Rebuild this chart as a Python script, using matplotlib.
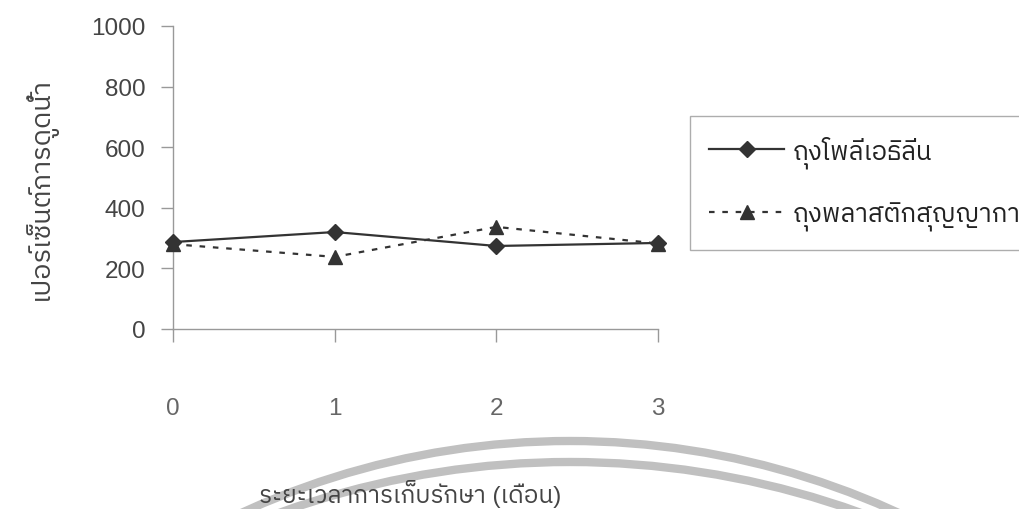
import matplotlib
matplotlib.use("Agg")
import matplotlib.pyplot as plt
from matplotlib import font_manager
from matplotlib.ft2font import FT2Font
from matplotlib.patches import Arc
from matplotlib.transforms import IdentityTransform

months = [0, 1, 2, 3]
polyethylene = [287, 320, 274, 284]
vacuum_bag = [280, 238, 337, 282]
series_names = ["ถุงโพลีเอธิลีน", "ถุงพลาสติกสุญญากาศ"]
y_ticks = [0, 200, 400, 600, 800, 1000]
x_label = "ระยะเวลาการเก็บรักษา (เดือน)"
y_label = "เปอร์เซ็นต์การดูดน้ำ"


def find_thai_family():
    # first installed family that actually has Thai glyphs
    found = []
    for path in font_manager.findSystemFonts():
        try:
            if 0x0E01 in FT2Font(path).get_charmap():
                found.append(font_manager.FontProperties(fname=path).get_name())
        except Exception:
            continue
    for name in found:
        if "Sans" in name and "Loopless" in name:
            return name
    for name in found:
        if "Sans" in name:
            return name
    return found[0] if found else "DejaVu Sans"


thai = find_thai_family()
plt.rcParams["font.family"] = ["Liberation Sans", thai, "DejaVu Sans"]

fig = plt.figure(figsize=(10.2, 5.1), dpi=100)
ax = fig.add_axes([173 / 1020, 1 - 330 / 510, (658 - 173) / 1020, 303 / 510])

ax.plot(months, polyethylene, color="#333333", lw=1.6, marker="D", ms=8,
        label=series_names[0], clip_on=False, zorder=4)
ax.plot(months, vacuum_bag, color="#333333", lw=1.6, ls=(0, (2.5, 3.5)),
        marker="^", ms=10, label=series_names[1], clip_on=False, zorder=3)

ax.set_xlim(0, 3)
ax.set_ylim(0, 1000)
ax.set_xticks(months)
ax.set_yticks(y_ticks)
for side in ("top", "right"):
    ax.spines[side].set_visible(False)
for side in ("left", "bottom"):
    ax.spines[side].set_color("#999999")
    ax.spines[side].set_linewidth(1.0)
ax.tick_params(axis="y", length=9, width=1, color="#999999", pad=11,
               labelsize=17.5, labelcolor="#444444")
ax.tick_params(axis="x", length=9, width=1, color="#999999", pad=40,
               labelsize=17.5, labelcolor="#666666")

fig.text(40 / 1020, 1 - 189 / 510, y_label, rotation=90, ha="center",
         va="center", fontsize=19.5, color="#444444")
fig.text(410 / 1020, 1 - 494 / 510, x_label, ha="center", va="center",
         fontsize=17.5, color="#444444")

leg = ax.legend(loc="upper left", bbox_to_anchor=(690 / 1020, 1 - 117 / 510),
                bbox_transform=fig.transFigure, borderaxespad=0, fontsize=18.5,
                frameon=True, fancybox=False, edgecolor="#999999",
                handlelength=2.9, labelspacing=1.3, borderpad=0.75,
                handletextpad=0.35)
leg.get_frame().set_linewidth(1.0)
for t in leg.get_texts():
    t.set_color("#222222")

# faint double arc across the bottom
for cx, cy, r in [(570, -719, 787), (570, -810, 857)]:
    fig.add_artist(Arc((cx, cy), 2 * r, 2 * r, theta1=55, theta2=125,
                       transform=IdentityTransform(), color="#c0c0c0",
                       lw=6, zorder=0))

fig.savefig("out.png", dpi=100)
